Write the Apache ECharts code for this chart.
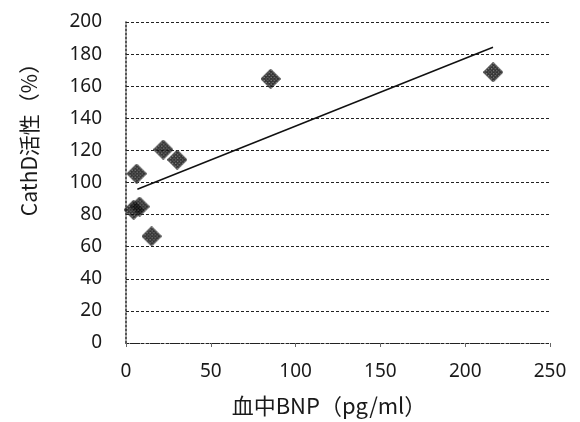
<!DOCTYPE html>
<html>
<head>
<meta charset="utf-8">
<script src="https://cdn.jsdelivr.net/npm/echarts@6/dist/echarts.min.js"></script>
<style>
html,body{margin:0;padding:0;background:#fff;}
#chart{width:580px;height:422px;}
</style>
</head>
<body>
<div id="chart"></div>
<script>
// Data
var bnp      = [6.3, 4.5, 8.0, 15.1, 22.0, 30.2, 85.3, 216.5];
var cathd    = [105.5, 83.0, 85.0, 66.5, 120.5, 114.2, 164.6, 168.7];
var trendX   = [6.7, 216.4];
var trendY   = [95.8, 184.3];
var xTicks   = [0, 50, 100, 150, 200, 250];
var yTicks   = [0, 20, 40, 60, 80, 100, 120, 140, 160, 180, 200];
var xName    = '血中BNP（pg/ml）';
var yName    = 'CathD活性（%）';

// hatched diamond marker image
var S = 20;
var mc = document.createElement('canvas');
mc.width = S; mc.height = S;
var g = mc.getContext('2d');
g.beginPath();
g.moveTo(S/2, 0); g.lineTo(S, S/2); g.lineTo(S/2, S); g.lineTo(0, S/2); g.closePath();
g.fillStyle = '#ffffff'; g.fill();
g.save(); g.clip();
g.strokeStyle = '#000'; g.lineWidth = 1.7;
for (var k = -S; k <= 2*S; k += 3.4) {
  g.beginPath(); g.moveTo(k, 0); g.lineTo(k + S, S); g.stroke();
  g.beginPath(); g.moveTo(k, S); g.lineTo(k + S, 0); g.stroke();
}
g.restore();
g.beginPath();
g.moveTo(S/2, 0.5); g.lineTo(S-0.5, S/2); g.lineTo(S/2, S-0.5); g.lineTo(0.5, S/2); g.closePath();
g.strokeStyle = '#222'; g.lineWidth = 0.8; g.stroke();
var markerUrl = 'image://' + mc.toDataURL();

var scatterData = bnp.map(function(x,i){ return [x, cathd[i]]; });
var trendData = trendX.map(function(x,i){ return [x, trendY[i]]; });

var txt = '#1a1a1a';
var chart = echarts.init(document.getElementById('chart'), null, {renderer:'canvas'});
chart.setOption({
  animation:false,
  backgroundColor:'#fff',
  grid:{left:126, right:30, top:22, bottom:79, containLabel:false},
  xAxis:{
    type:'value', min:xTicks[0], max:xTicks[xTicks.length-1], interval:50,
    name:xName, nameLocation:'middle', nameGap:52,
    nameTextStyle:{fontFamily:'Noto Sans CJK JP', fontSize:22, color:txt, padding:[0,18,0,0]},
    axisLine:{show:true, onZero:false, lineStyle:{color:'#222', type:[2,2], width:1.2}},
    axisTick:{show:true, length:4, inside:false, lineStyle:{color:'#666', width:1}},
    axisLabel:{fontFamily:'Noto Sans', fontSize:19, color:txt, margin:19},
    splitLine:{show:false}
  },
  yAxis:{
    type:'value', min:yTicks[0], max:yTicks[yTicks.length-1], interval:20,
    name:yName, nameLocation:'middle', nameGap:86, nameRotate:90,
    nameTextStyle:{fontFamily:'Noto Sans CJK JP', fontSize:21, color:txt, padding:[0,0,0,96]},
    axisLine:{show:true, lineStyle:{color:'#222', type:[2,2], width:1.5}},
    axisTick:{show:false},
    axisLabel:{fontFamily:'Noto Sans', fontSize:19, color:txt, margin:24},
    splitLine:{show:true, lineStyle:{color:'#222', type:[3,2], width:1.2}}
  },
  series:[
    {
      type:'scatter', data:scatterData, symbol:markerUrl, symbolSize:[S,S]
    },
    {
      type:'line', data:trendData, symbol:'none',
      lineStyle:{color:'#111', width:1.5}
    }
  ]
});
</script>
</body>
</html>
